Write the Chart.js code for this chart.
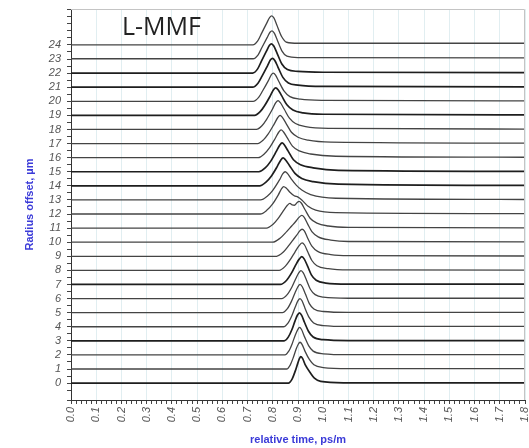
<!DOCTYPE html>
<html><head><meta charset="utf-8">
<script src="https://cdn.jsdelivr.net/npm/chart.js@4.4.1/dist/chart.umd.min.js"></script>
<style>html,body{margin:0;padding:0;background:#fff}#wrap{width:529px;height:448px}</style>
</head><body><div id="wrap"><canvas id="c" width="529" height="448"></canvas></div>
<script>
// Radius offsets (µm) — one trace per offset
const offsets = [0,1,2,3,4,5,6,7,8,9,10,11,12,13,14,15,16,17,18,19,20,21,22,23,24];
// Pulse shapes: [relative time ps/m, amplitude above trace baseline]
const r0  = [[0,0],[0.862,0],[0.877,0.3],[0.889,0.85],[0.899,1.4],[0.906,1.75],[0.911,1.88],[0.918,1.75],[0.93,1.25],[0.948,0.75],[0.965,0.35],[0.99,0.12],[1.08,0.02],[1.8,0.02]];
const r1  = [[0,0],[0.855,0],[0.869,0.28],[0.881,0.8],[0.892,1.38],[0.901,1.76],[0.908,1.9],[0.916,1.75],[0.928,1.25],[0.945,0.68],[0.963,0.3],[1.0,0.1],[1.1,0.02],[1.8,0.02]];
const r2  = [[0,0],[0.848,0],[0.864,0.28],[0.877,0.8],[0.889,1.4],[0.899,1.8],[0.906,1.95],[0.914,1.8],[0.926,1.28],[0.942,0.66],[0.96,0.27],[1.0,0.08],[1.1,0.02],[1.8,0.02]];
const r3  = [[0,0],[0.845,0],[0.862,0.28],[0.876,0.8],[0.888,1.4],[0.898,1.83],[0.906,1.98],[0.914,1.82],[0.926,1.3],[0.942,0.66],[0.96,0.27],[1.0,0.08],[1.1,0.02],[1.8,0.02]];
const r4  = [[0,0],[0.842,0],[0.861,0.28],[0.876,0.8],[0.889,1.4],[0.9,1.85],[0.908,2.0],[0.916,1.84],[0.928,1.3],[0.944,0.66],[0.962,0.27],[1.0,0.08],[1.1,0.02],[1.8,0.02]];
const r5  = [[0,0],[0.838,0],[0.858,0.28],[0.874,0.8],[0.888,1.4],[0.9,1.85],[0.908,2.0],[0.917,1.84],[0.93,1.3],[0.945,0.64],[0.963,0.26],[1.0,0.08],[1.1,0.02],[1.8,0.02]];
const r6  = [[0,0],[0.835,0],[0.858,0.3],[0.876,0.82],[0.891,1.4],[0.903,1.82],[0.912,1.98],[0.921,1.82],[0.934,1.3],[0.949,0.66],[0.968,0.28],[1.0,0.1],[1.1,0.02],[1.8,0.02]];
const r7  = [[0,0],[0.83,0],[0.855,0.3],[0.874,0.8],[0.89,1.35],[0.904,1.78],[0.915,1.97],[0.925,1.8],[0.938,1.3],[0.953,0.68],[0.972,0.3],[1.01,0.1],[1.1,0.03],[1.8,0.02]];
const r8  = [[0,0],[0.825,0],[0.85,0.3],[0.87,0.78],[0.888,1.3],[0.903,1.72],[0.916,1.95],[0.926,1.8],[0.939,1.3],[0.955,0.7],[0.975,0.33],[1.02,0.12],[1.1,0.03],[1.8,0.02]];
const r9  = [[0,0],[0.815,0],[0.842,0.3],[0.863,0.75],[0.88,1.15],[0.895,1.5],[0.907,1.8],[0.916,1.92],[0.925,1.8],[0.938,1.3],[0.955,0.72],[0.978,0.35],[1.03,0.12],[1.1,0.04],[1.8,0.02]];
const r10 = [[0,0],[0.8,0],[0.83,0.3],[0.855,0.75],[0.875,1.15],[0.89,1.45],[0.905,1.78],[0.915,1.9],[0.924,1.78],[0.938,1.3],[0.955,0.75],[0.98,0.38],[1.03,0.15],[1.1,0.05],[1.8,0.02]];
const r11 = [[0,0],[0.775,0],[0.8,0.25],[0.82,0.65],[0.843,1.25],[0.858,1.62],[0.868,1.75],[0.877,1.65],[0.886,1.62],[0.896,1.8],[0.904,1.9],[0.913,1.78],[0.928,1.3],[0.948,0.7],[0.975,0.35],[1.02,0.15],[1.1,0.05],[1.8,0.02]];
const r12 = [[0,0],[0.75,0],[0.776,0.26],[0.798,0.68],[0.822,1.36],[0.835,1.8],[0.843,1.95],[0.853,1.85],[0.868,1.55],[0.885,1.3],[0.9,1.2],[0.915,1.0],[0.94,0.55],[0.97,0.28],[1.05,0.1],[1.8,0.03]];
const r13 = [[0,0],[0.752,0],[0.778,0.26],[0.8,0.68],[0.826,1.4],[0.84,1.86],[0.849,2.0],[0.858,1.88],[0.873,1.5],[0.893,1.05],[0.915,0.7],[0.95,0.38],[1.05,0.12],[1.8,0.03]];
const r14 = [[0,0],[0.748,0],[0.773,0.26],[0.794,0.68],[0.818,1.38],[0.832,1.84],[0.841,1.98],[0.85,1.85],[0.866,1.45],[0.888,0.88],[0.915,0.52],[0.96,0.3],[1.06,0.12],[1.8,0.03]];
const r15 = [[0,0],[0.745,0],[0.77,0.27],[0.79,0.7],[0.814,1.44],[0.828,1.9],[0.837,2.05],[0.846,1.9],[0.861,1.46],[0.882,0.85],[0.91,0.5],[0.96,0.28],[1.06,0.1],[1.8,0.03]];
const r16 = [[0,0],[0.742,0],[0.766,0.26],[0.786,0.68],[0.81,1.38],[0.824,1.82],[0.833,1.97],[0.842,1.84],[0.857,1.42],[0.878,0.82],[0.905,0.48],[0.95,0.26],[1.05,0.1],[1.8,0.03]];
const r17 = [[0,0],[0.74,0],[0.763,0.26],[0.782,0.68],[0.806,1.4],[0.82,1.85],[0.829,2.0],[0.838,1.86],[0.853,1.42],[0.874,0.8],[0.9,0.45],[0.94,0.24],[1.03,0.1],[1.8,0.03]];
const r18 = [[0,0],[0.735,0],[0.757,0.26],[0.775,0.7],[0.798,1.42],[0.812,1.9],[0.821,2.05],[0.83,1.9],[0.845,1.45],[0.866,0.8],[0.89,0.42],[0.93,0.2],[1.02,0.08],[1.8,0.03]];
const r19 = [[0,0],[0.728,0],[0.75,0.26],[0.768,0.7],[0.79,1.38],[0.803,1.82],[0.812,1.95],[0.821,1.82],[0.835,1.4],[0.856,0.75],[0.88,0.38],[0.92,0.18],[1.0,0.08],[1.8,0.03]];
const r20 = [[0,0],[0.722,0],[0.744,0.28],[0.76,0.75],[0.782,1.45],[0.794,1.88],[0.802,2.0],[0.811,1.86],[0.824,1.4],[0.845,0.72],[0.868,0.33],[0.91,0.15],[1.0,0.07],[1.8,0.03]];
const r21 = [[0,0],[0.72,0],[0.742,0.3],[0.758,0.8],[0.779,1.52],[0.791,1.94],[0.799,2.05],[0.808,1.9],[0.82,1.45],[0.84,0.7],[0.862,0.3],[0.9,0.15],[1.0,0.06],[1.8,0.03]];
const r22 = [[0,0],[0.72,0],[0.74,0.3],[0.755,0.85],[0.775,1.56],[0.787,1.98],[0.795,2.08],[0.804,1.92],[0.816,1.45],[0.836,0.65],[0.858,0.25],[0.9,0.12],[1.0,0.06],[1.8,0.04]];
const r23 = [[0,0.02],[0.722,0.02],[0.742,0.3],[0.757,0.82],[0.777,1.5],[0.789,1.9],[0.797,2.0],[0.806,1.84],[0.817,1.38],[0.836,0.58],[0.856,0.2],[0.9,0.1],[1.8,0.08]];
const r24 = [[0,0],[0.721,0],[0.741,0.31],[0.756,0.84],[0.776,1.55],[0.788,1.96],[0.796,2.06],[0.805,1.9],[0.816,1.42],[0.835,0.6],[0.855,0.19],[0.9,0.12],[1.8,0.12]];
const traces = [r0,r1,r2,r3,r4,r5,r6,r7,r8,r9,r10,r11,r12,r13,r14,r15,r16,r17,r18,r19,r20,r21,r22,r23,r24];
const darkTraces = [0,3,7,14,15,19,21,22];
const yTickLabels = offsets.map(String);
const xMajorStep = 0.1;

const datasets = traces.map((pts, i) => ({
  label: 'r' + offsets[i],
  data: pts.map(([t, v]) => ({x: t, y: offsets[i] + v})),
  borderColor: darkTraces.includes(i) ? '#1e1e1e' : '#444',
  borderWidth: darkTraces.includes(i) ? 1.7 : 1.3,
  pointRadius: 0,
  tension: 0.4,
  cubicInterpolationMode: 'monotone',
  fill: false
}));

const isMajorX = v => Math.abs(v / xMajorStep - Math.round(v / xMajorStep)) < 1e-6;

const framePlugin = {
  id: 'frame',
  afterDraw(chart) {
    const {ctx, chartArea: a} = chart;
    ctx.save();
    ctx.strokeStyle = '#c4c4c4';
    ctx.lineWidth = 1;
    ctx.beginPath();
    ctx.moveTo(a.left, a.top + 0.5);
    ctx.lineTo(a.right - 0.5, a.top + 0.5);
    ctx.lineTo(a.right - 0.5, a.bottom);
    ctx.stroke();
    ctx.fillStyle = '#222';
    ctx.font = '25px "Open Sans", "Liberation Sans", sans-serif';
    ctx.textBaseline = 'alphabetic';
    ctx.fillText('L-MMF', 122, 35);
    ctx.restore();
  }
};

new Chart(document.getElementById('c'), {
  type: 'line',
  data: {datasets},
  plugins: [framePlugin],
  options: {
    responsive: false,
    animation: false,
    devicePixelRatio: 1,
    layout: {padding: {top: 9, right: 4, left: 0, bottom: 0}},
    plugins: {legend: {display: false}, tooltip: {enabled: false}},
    scales: {
      x: {
        type: 'linear', min: 0, max: 1.8,
        ticks: {
          stepSize: 0.02, autoSkip: false, minRotation: 90, maxRotation: 90, padding: 3,
          color: '#555', font: {family: 'Liberation Sans', style: 'italic', size: 11},
          callback: v => isMajorX(v) ? v.toFixed(1) : ''
        },
        grid: {
          color: c => (c.tick && isMajorX(c.tick.value) && c.tick.value > 0.001) ? 'rgba(170,205,215,0.35)' : 'rgba(0,0,0,0)',
          tickColor: '#444', tickLength: 4
        },
        border: {color: '#333', width: 1},
        title: {display: true, text: 'relative time, ps/m', color: '#3b3bd8',
          font: {family: 'Liberation Sans', weight: 'bold', size: 11}, padding: {top: 0, bottom: 1}},
        afterFit: s => { s.height = 48; s.paddingLeft = 0; s.paddingRight = 0; }
      },
      y: {
        type: 'linear', min: -1.2, max: 26.55,
        ticks: {
          stepSize: 0.5, autoSkip: false, padding: 6,
          color: '#555', font: {family: 'Liberation Sans', style: 'italic', size: 11},
          callback: v => (Math.abs(v - Math.round(v)) < 1e-6 && v >= 0 && v <= 24) ? yTickLabels[Math.round(v)] : ''
        },
        grid: {drawOnChartArea: false, tickColor: '#444', tickLength: 4},
        border: {color: '#333', width: 1},
        title: {display: true, text: 'Radius offset, µm', color: '#3b3bd8',
          font: {family: 'Liberation Sans', weight: 'bold', size: 11}, padding: {top: 23, bottom: 0}},
        afterFit: s => { s.width = 71; s.paddingTop = 0; s.paddingBottom = 0; }
      }
    }
  }
});
</script></body></html>
